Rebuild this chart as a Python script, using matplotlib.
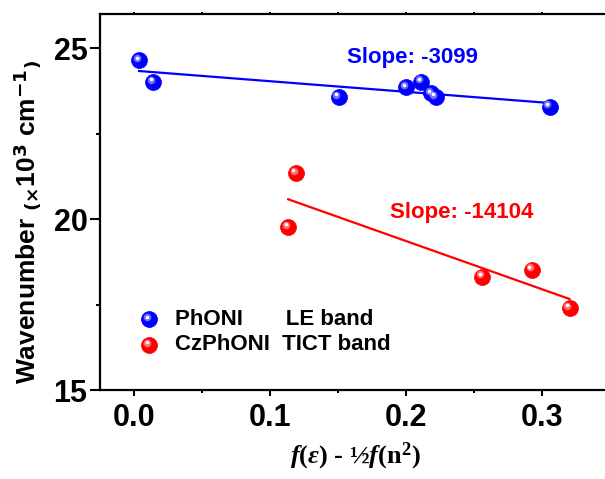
import numpy as np
import matplotlib
matplotlib.use("Agg")
import matplotlib.pyplot as plt
from matplotlib.transforms import offset_copy
from matplotlib.ticker import MultipleLocator, FormatStrFormatter

# solvent polarity function f(eps) - 1/2 f(n^2) vs. emission maximum (x10^3 cm-1)
phoni_x = [0.0037, 0.0143, 0.1505, 0.2001, 0.2111, 0.2185, 0.2217, 0.3056]
phoni_y = [24.64, 24.01, 23.58, 23.85, 24.02, 23.68, 23.57, 23.29]
cz_x = [0.1134, 0.1191, 0.2560, 0.2926, 0.3203]
cz_y = [19.77, 21.35, 18.32, 18.52, 17.40]
slopes = [-3099, -14104]  # cm-1
legend_names = ["PhONI" + " " * 7 + "LE band", "CzPhONI" + " " * 2 + "TICT band"]

plt.rcParams["font.family"] = "Liberation Sans"
plt.rcParams["font.weight"] = "bold"
plt.rcParams["mathtext.fontset"] = "custom"
plt.rcParams["mathtext.rm"] = "Liberation Serif:bold"
plt.rcParams["mathtext.it"] = "Liberation Serif:italic:bold"
plt.rcParams["mathtext.bf"] = "Liberation Serif:bold"
plt.rcParams["mathtext.sf"] = "Liberation Sans Narrow:bold"
narrow = ["Liberation Sans Narrow", "Liberation Sans"]

fig = plt.figure(figsize=(6.05, 4.79), dpi=100)
ax = fig.add_axes([100 / 605, 89 / 479, 510 / 605, 376 / 479])


def draw_spheres(xs, ys, color, glow, transform):
    # shaded ball: solid body plus a soft highlight up and to the left
    ax.plot(xs, ys, "o", ms=11.5, mfc=color, mec=color, mew=0.5,
            transform=transform, clip_on=False, zorder=3)
    t1 = offset_copy(transform, fig=fig, x=-2.2, y=2.2, units="dots")
    ax.plot(xs, ys, "o", ms=5.5, mfc=glow, mec="none", alpha=0.55,
            transform=t1, clip_on=False, zorder=4)
    t2 = offset_copy(transform, fig=fig, x=-2.5, y=2.6, units="dots")
    ax.plot(xs, ys, "o", ms=2.6, mfc="white", mec="none",
            transform=t2, clip_on=False, zorder=5)


def fit_line(xs, ys, slope):
    k = slope / 1000.0
    b = np.mean(ys) - k * np.mean(xs)
    xx = np.array([min(xs), max(xs)])
    return xx, k * xx + b


xx, yy = fit_line(phoni_x, phoni_y, slopes[0])
ax.plot(xx, yy, color="blue", lw=1.6, zorder=2)
xx, yy = fit_line(cz_x, cz_y, slopes[1])
ax.plot(xx, yy, color="red", lw=1.6, zorder=2)

draw_spheres(phoni_x, phoni_y, "#0000ff", "#c8c8ff", ax.transData)
draw_spheres(cz_x, cz_y, "#ff0000", "#ffc8c8", ax.transData)

ax.text(0.205, 24.74, f"Slope: {slopes[0]}", color="blue", fontsize=16,
        fontweight="bold", ha="center", va="center")
ax.text(0.241, 20.18, f"Slope: {slopes[1]}", color="red", fontsize=16,
        fontweight="bold", ha="center", va="center")

# legend drawn by hand so the markers keep their shading
draw_spheres([0.0967], [0.188], "#0000ff", "#c8c8ff", ax.transAxes)
draw_spheres([0.0967], [0.1197], "#ff0000", "#ffc8c8", ax.transAxes)
ax.text(0.147, 0.188, legend_names[0], transform=ax.transAxes, fontsize=16,
        fontweight="bold", va="center")
ax.text(0.147, 0.1197, legend_names[1], transform=ax.transAxes, fontsize=16,
        fontweight="bold", va="center")

ax.set_xlim(-0.025, 0.35)
ax.set_ylim(15, 26)
ax.xaxis.set_major_locator(MultipleLocator(0.1))
ax.xaxis.set_minor_locator(MultipleLocator(0.05))
ax.yaxis.set_major_locator(MultipleLocator(5))
ax.yaxis.set_minor_locator(MultipleLocator(2.5))
ax.xaxis.set_major_formatter(FormatStrFormatter("%.1f"))

for s in ax.spines.values():
    s.set_linewidth(1.6)
ax.tick_params(which="both", direction="out", width=1.5, labelsize=22, top=True)
ax.tick_params(axis="x", which="major", length=4, pad=5)
ax.tick_params(axis="x", which="minor", length=2.5)
ax.tick_params(axis="y", which="major", length=7, pad=2)
ax.tick_params(axis="y", which="minor", length=3)
for t in ax.xaxis.get_major_ticks() + ax.xaxis.get_minor_ticks():
    t.tick2line.set_markersize(1.5)
for lab in ax.get_xticklabels() + ax.get_yticklabels():
    lab.set_fontweight("bold")
    lab.set_family(narrow)

ax.set_xlabel(r"$f(\varepsilon)$ - ½$f$(n$^2$)", fontsize=19,
              family="Liberation Serif", fontweight="bold", labelpad=6)
fig.text(28 / 605, 1 - 222 / 479,
         r"Wavenumber $\mathsf{_{(\times}}$10$^{\mathsf{3}}$ cm$^{\mathsf{-1}}$$\mathsf{_{)}}$",
         rotation=90, fontsize=19, fontweight="bold", family=narrow,
         ha="center", va="center")

fig.savefig("out.png", dpi=100)
